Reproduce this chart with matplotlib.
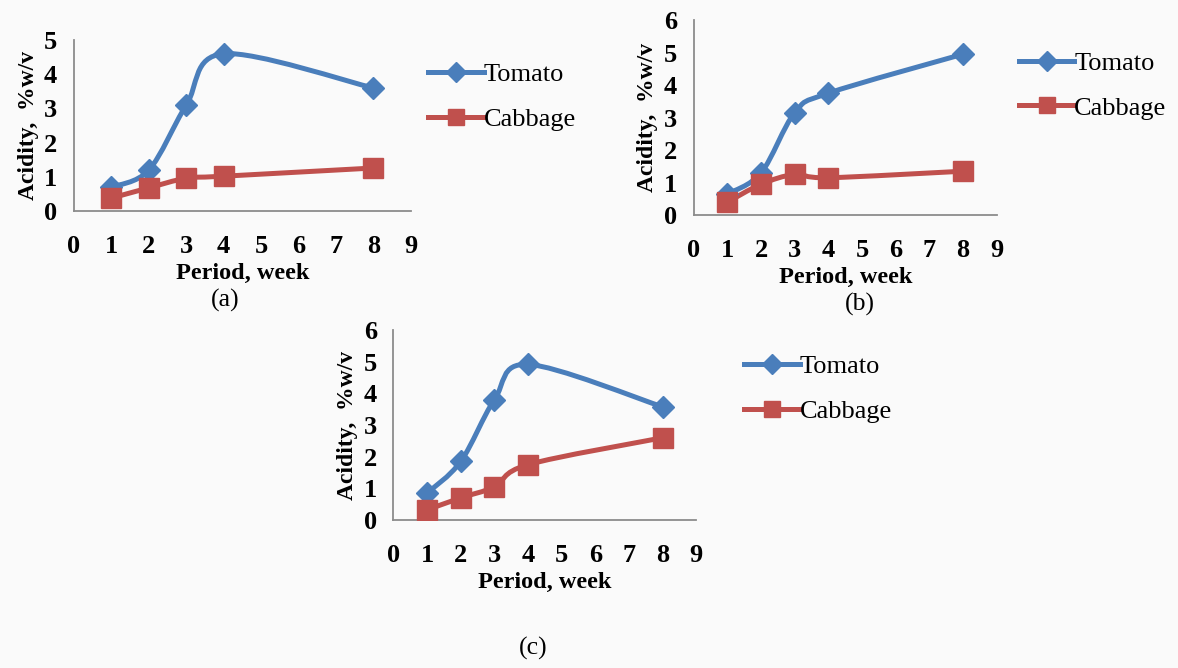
import matplotlib.pyplot as plt
import numpy as np
from matplotlib.path import Path
from matplotlib.patches import PathPatch
from matplotlib.lines import Line2D

plt.rcParams['font.family'] = ['Liberation Serif', 'DejaVu Serif']

# data
weeks = [1, 2, 3, 4, 8]
tomato_a = [0.7, 1.2, 3.1, 4.6, 3.6]
cabbage_a = [0.38, 0.68, 0.96, 1.02, 1.26]
tomato_b = [0.65, 1.3, 3.15, 3.75, 4.95]
cabbage_b = [0.4, 0.95, 1.25, 1.15, 1.35]
tomato_c = [0.85, 1.85, 3.8, 4.92, 3.58]
cabbage_c = [0.32, 0.7, 1.05, 1.75, 2.6]

panel_labels = ['(a)', '(b)', '(c)']
xticks = list(range(0, 10))

BLUE = '#4a7ebb'
RED = '#c0504d'
BG = '#fafafa'


def smooth_path(x, y):
    # Excel style smoothed line: Catmull-Rom segments as cubic Beziers
    pts = np.column_stack([x, y]).astype(float)
    verts = [pts[0]]
    codes = [Path.MOVETO]
    n = len(pts)
    for i in range(n - 1):
        p0 = pts[max(i - 1, 0)]
        p1 = pts[i]
        p2 = pts[i + 1]
        p3 = pts[min(i + 2, n - 1)]
        c1 = p1 + (p2 - p0) / 6.0
        c2 = p2 - (p3 - p1) / 6.0
        verts += [c1, c2, p2]
        codes += [Path.CURVE4] * 3
    return Path(verts, codes)


def draw_panel(ax, tom, cab, ymax):
    for vals, col, mk, ms in [(tom, BLUE, 'D', 11), (cab, RED, 's', 14)]:
        ax.add_patch(PathPatch(smooth_path(weeks, vals), fill=False,
                               edgecolor=col, lw=3.6, capstyle='round',
                               joinstyle='round', zorder=2))
        ax.plot(weeks, vals, ls='none', marker=mk, ms=ms, color=col,
                mec=col, zorder=3)
    ax.set_xlim(0, 9)
    ax.set_ylim(0, ymax)
    ax.set_xticks(xticks)
    ax.set_yticks(range(0, ymax + 1))
    ax.set_facecolor('none')
    for s in ['top', 'right']:
        ax.spines[s].set_visible(False)
    for s in ['left', 'bottom']:
        ax.spines[s].set_color('#8c8c8c')
        ax.spines[s].set_linewidth(1.3)
    ax.tick_params(axis='both', length=0, labelsize=19)
    ax.tick_params(axis='x', pad=17)
    ax.tick_params(axis='y', pad=12)
    for t in ax.get_xticklabels() + ax.get_yticklabels():
        t.set_fontweight('bold')
    ax.set_xlabel('Period, week', fontsize=17.5, fontweight='bold', labelpad=4)
    ax.set_ylabel('Acidity,  %w/v', fontsize=17, fontweight='bold',
                  labelpad=4)


def draw_legend(ax, x, y):
    handles = [Line2D([], [], color=BLUE, lw=3.6, marker='D', ms=10),
               Line2D([], [], color=RED, lw=3.6, marker='s', ms=12)]
    ax.legend(handles, ['Tomato', 'Cabbage'], loc='center left',
              bbox_to_anchor=(x, y), bbox_transform=ax.figure.transFigure,
              frameon=False, fontsize=19, handlelength=2.1,
              handletextpad=0.0, labelspacing=0.8, borderaxespad=0)


fig = plt.figure(figsize=(11.78, 6.68), dpi=100, facecolor=BG)

ax_a = fig.add_axes([0.0628, 0.684, 0.286, 0.256])
ax_b = fig.add_axes([0.589, 0.678, 0.257, 0.292])
ax_c = fig.add_axes([0.334, 0.2216, 0.257, 0.284])

draw_panel(ax_a, tomato_a, cabbage_a, 5)
draw_panel(ax_b, tomato_b, cabbage_b, 6)
draw_panel(ax_c, tomato_c, cabbage_c, 6)

draw_legend(ax_a, 0.3545, 0.855)
draw_legend(ax_b, 0.856, 0.872)
draw_legend(ax_c, 0.623, 0.418)

fig.text(225 / 1178, 1 - 300 / 668, panel_labels[0], fontsize=18.5,
         ha='center', va='center')
fig.text(860 / 1178, 1 - 304 / 668, panel_labels[1], fontsize=18.5,
         ha='center', va='center')
fig.text(533 / 1178, 1 - 648 / 668, panel_labels[2], fontsize=18.5,
         ha='center', va='center')

fig.savefig('out.png', dpi=100, facecolor=BG)
